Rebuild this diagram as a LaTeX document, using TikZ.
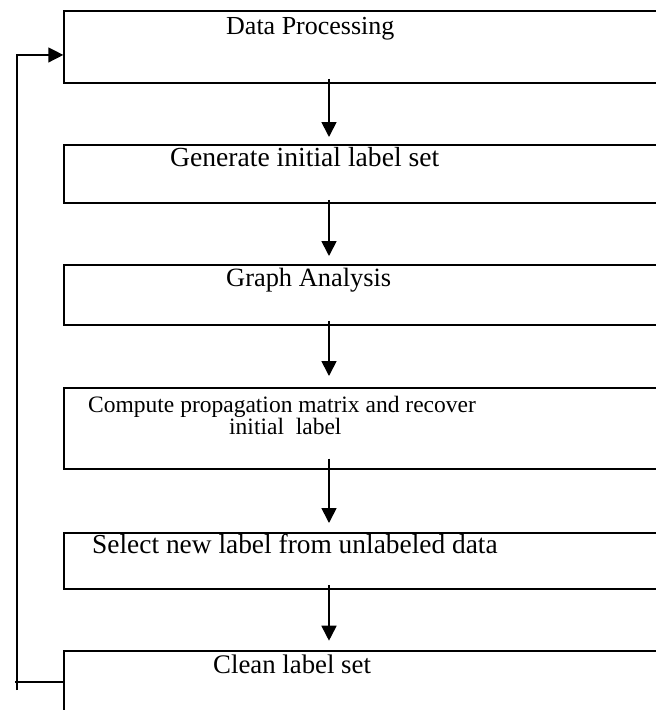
\documentclass[tikz,border=0pt]{standalone}
\usepackage{fontspec}
\setmainfont{Liberation Serif}
\usetikzlibrary{arrows.meta,calc}
\tikzset{
  stage/.style   = {shape=rectangle, draw, line width=1.8pt,
                    anchor=north west, minimum width=660pt,
                    inner sep=0pt},
  caption/.style = {anchor=base west, inner sep=0pt, align=left,
                    font=\fontsize{#1}{22.7}\selectfont},
  caption/.default = 26.5,
  flow/.style    = {line width=1.7pt, -{Triangle[length=15pt,width=15pt]}},
  loopback/.style= {line width=1.4pt}
}

\begin{document}
\begin{tikzpicture}[x=1pt,y=-1pt]
  \useasboundingbox (0,0) rectangle (656,710);
  \clip (0,0) rectangle (656,710);

  % the six steps, cut off at the right edge
  \node[stage, minimum height=71.7pt] (proc)   at (63.3,10)    {};
  \node[stage, minimum height=57.7pt] (init)   at (63.3,144)   {};
  \node[stage, minimum height=59.7pt] (graph)  at (63.3,264.3) {};
  \node[stage, minimum height=81pt]   (prop)   at (63.3,386.7) {};
  \node[stage, minimum height=56.6pt] (select) at (63.3,531.7) {};
  \node[stage, minimum height=80pt]   (clean)  at (63.3,650)   {};

  \node[caption=26]   at ([xshift=162.7pt,yshift=-24pt]proc.north west)   {Data Processing};
  \node[caption=27.6] at ([xshift=106.7pt,yshift=-22.7pt]init.north west) {Generate initial label set};
  \node[caption=26.4] at ([xshift=162.7pt,yshift=-22.3pt]graph.north west) {Graph Analysis};
  \node[caption=23.5] at ([xshift=24.7pt,yshift=-48pt]prop.north west)
    {Compute propagation matrix and recover\\\hspace*{141pt}initial\ \ label};
  \node[caption=27.4] at ([xshift=28.7pt,yshift=-21.7pt]select.north west) {Select new label from unlabeled data};
  \node[caption=26.8] at ([xshift=149.7pt,yshift=-23pt]clean.north west)  {Clean label set};

  % downward arrows
  \coordinate (spine) at (329,0);
  \foreach \a/\b/\s/\g in {proc/init/4.7/7, init/graph/3.7/8.3,
                           graph/prop/5/10.7, prop/select/11/8.7,
                           select/clean/5.3/9.3} {
    \draw[flow] ([yshift=\s pt]\a.south -| spine) -- ([yshift=\g pt]\b.north -| spine);
  }

  % back to the start
  \coordinate (tail) at (17,690);
  \coordinate (stub) at (15,0);
  \draw[loopback] ([yshift=9pt]clean.west) -- ([yshift=9pt]clean.west -| stub);
  \draw[loopback, -{Triangle[length=15pt,width=15pt]}]
    (tail) |- ([yshift=-8.2pt]proc.west);
\end{tikzpicture}
\end{document}
